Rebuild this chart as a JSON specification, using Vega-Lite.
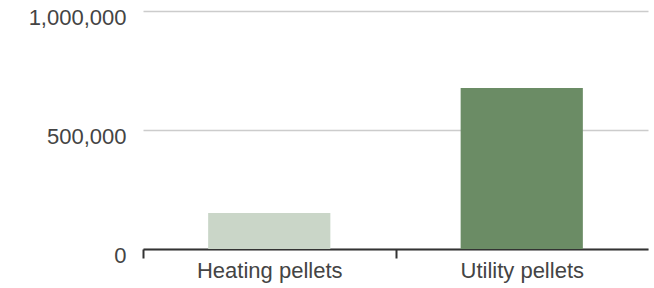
{
  "$schema": "https://vega.github.io/schema/vega-lite/v6.json",
  "width": 505,
  "height": 238,
  "autosize": {"type": "none"},
  "padding": {"left": 143, "top": 11, "right": 6, "bottom": 39},
  "background": "white",
  "config": {"view": {"stroke": null}, "font": "Liberation Sans"},
  "data": {"values": [
    {"type": "Heating pellets", "value": 151000},
    {"type": "Utility pellets", "value": 676000}
  ]},
  "mark": {"type": "bar"},
  "encoding": {
    "x": {
      "field": "type", "type": "nominal", "sort": null,
      "scale": {"paddingInner": 0.516, "paddingOuter": 0.258},
      "axis": {
        "title": null, "labelAngle": 0, "labelFontSize": 22, "labelColor": "#444",
        "labelFont": "Liberation Sans",
        "domainColor": "#333", "domainWidth": 2, "tickColor": "#333", "tickWidth": 2,
        "tickSize": 9, "tickOffset": -126, "labelOffset": 126, "labelPadding": 2, "grid": false
      }
    },
    "y": {
      "field": "value", "type": "quantitative",
      "scale": {"domain": [0, 1000000]},
      "axis": {
        "title": null, "values": [0, 500000, 1000000], "format": ",d",
        "labelFontSize": 22, "labelColor": "#444", "labelFont": "Liberation Sans",
        "domain": false, "ticks": false, "labelPadding": 17, "labelOffset": 6,
        "gridColor": "#ccc", "gridWidth": 1.5
      }
    },
    "color": {
      "field": "type", "type": "nominal", "legend": null,
      "scale": {"domain": ["Heating pellets", "Utility pellets"], "range": ["#cad6c8", "#6b8c65"]}
    }
  }
}
